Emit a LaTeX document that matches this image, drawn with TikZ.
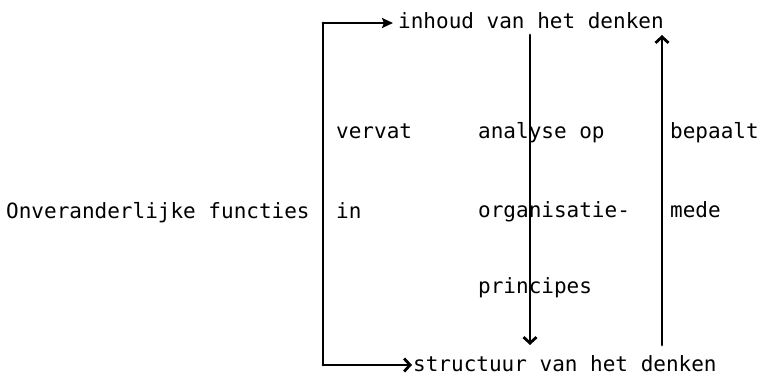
\documentclass[tikz,border=0pt]{standalone}
\usepackage{fontspec}
\setmonofont{DejaVu Sans Mono}
\usetikzlibrary{arrows.meta}
\begin{document}
\begin{tikzpicture}[x=1pt,y=-1pt,
  lbl/.style={font=\ttfamily\fontsize{21}{21}\selectfont, anchor=base west, inner sep=0pt},
  wire/.style={line width=2.8pt, line cap=round},
  solidtip/.style={-{Stealth[length=11pt,width=10pt,inset=2pt]}},
  barbtip/.style={-{Straight Barb[length=6pt,width=13pt,line width=2.8pt]}}
]
\useasboundingbox[fill=white] (0,0) rectangle (761,375);

% labels
\node[lbl] (onv)       at (6,218)   {Onveranderlijke functies};
\node[lbl] (vervat)    at (336,138) {vervat};
\node[lbl] (in)        at (336,218) {in};
\node[lbl] (analyse)   at (478,138) {analyse op};
\node[lbl] (organ)     at (478,217) {organisatie-};
\node[lbl] (princ)     at (478,293) {principes};
\node[lbl] (bepaalt)   at (670,138) {bepaalt};
\node[lbl] (mede)      at (670,217) {mede};
\node[lbl] (inhoud)    at (398,28)  {inhoud van het denken};
\node[lbl] (structuur) at (413,371) {structuur van het denken};

% corner points of the bracket and ends of the vertical arrows
\coordinate (tl)   at (323,23);
\coordinate (bl)   at (323,365);
\coordinate (mtop) at (530,35);
\coordinate (mbot) at (530,345);
\coordinate (rtop) at (662,35);
\coordinate (rbot) at (662,345);

% bracket from the functions to both kinds of thinking
\draw[wire] (tl) -- (bl);
\draw[wire, solidtip, shorten >=5pt] (tl) -- (inhoud.base west |- tl);
\draw[wire, barbtip, shorten >=1pt] (bl) -- (structuur.base west |- bl);

% content analysed into organising principles; structure co-determines content
\draw[wire, barbtip] (mtop) -- (mbot);
\draw[wire, barbtip] (rbot) -- (rtop);
\end{tikzpicture}
\end{document}
